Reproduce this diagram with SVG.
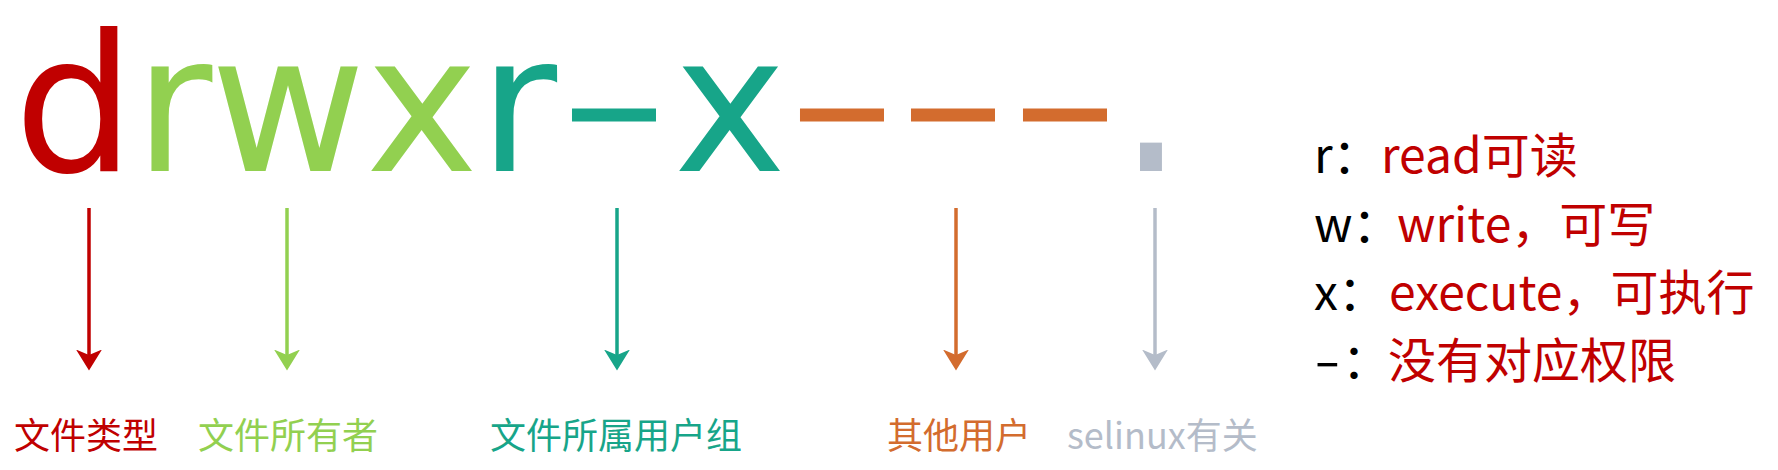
<svg xmlns="http://www.w3.org/2000/svg" width="1778" height="470" viewBox="0 0 1778 470">
<style>
.big{font-family:"DejaVu Sans",sans-serif;font-size:190px;text-anchor:middle}
.lbl{font-family:"Noto Sans CJK SC","Noto Sans",sans-serif;font-size:36px}
.leg{font-family:"Noto Sans CJK SC","Noto Sans",sans-serif;font-size:48px}
.k{fill:#000000}
.red{fill:#C00000}
.grn{fill:#92D050}
.teal{fill:#17A589}
.org{fill:#D36C2E}
.gry{fill:#B4BCC9}
.ln{stroke-width:3.5;fill:none}
</style>
<defs>
<marker id="mRed" markerUnits="userSpaceOnUse" viewBox="0 0 21 26" refX="5.5" refY="13" markerWidth="21" markerHeight="26" orient="auto"><path d="M0,0 L21,13 L0,26 L5.5,13 Z" fill="#C00000"/></marker>
<marker id="mGrn" markerUnits="userSpaceOnUse" viewBox="0 0 21 26" refX="5.5" refY="13" markerWidth="21" markerHeight="26" orient="auto"><path d="M0,0 L21,13 L0,26 L5.5,13 Z" fill="#92D050"/></marker>
<marker id="mTeal" markerUnits="userSpaceOnUse" viewBox="0 0 21 26" refX="5.5" refY="13" markerWidth="21" markerHeight="26" orient="auto"><path d="M0,0 L21,13 L0,26 L5.5,13 Z" fill="#17A589"/></marker>
<marker id="mOrg" markerUnits="userSpaceOnUse" viewBox="0 0 21 26" refX="5.5" refY="13" markerWidth="21" markerHeight="26" orient="auto"><path d="M0,0 L21,13 L0,26 L5.5,13 Z" fill="#D36C2E"/></marker>
<marker id="mGry" markerUnits="userSpaceOnUse" viewBox="0 0 21 26" refX="5.5" refY="13" markerWidth="21" markerHeight="26" orient="auto"><path d="M0,0 L21,13 L0,26 L5.5,13 Z" fill="#B4BCC9"/></marker>
</defs>
<rect x="0" y="0" width="1778" height="470" fill="#FFFFFF"/>

<g id="permission-string">
<text class="big red" x="74.4" y="171">d</text>
<text class="big grn" x="173.4" y="171">r</text>
<text class="big grn" x="288" y="171">w</text>
<text class="big grn" x="422" y="171">x</text>
<text class="big teal" x="518" y="171">r</text>
<text class="big teal" transform="translate(614,115) scale(1.68,0.85)" x="0" y="52">-</text>
<text class="big teal" x="730" y="171">x</text>
<text class="big org" transform="translate(842,115) scale(1.68,0.85)" x="0" y="52">-</text>
<text class="big org" transform="translate(953,115) scale(1.68,0.85)" x="0" y="52">-</text>
<text class="big org" transform="translate(1065,115) scale(1.68,0.85)" x="0" y="52">-</text>
<text class="big gry" transform="translate(1151,171) scale(1.12,1.2)" x="0" y="0">.</text>
</g>

<g id="connectors">
<line class="ln" x1="89" y1="208" x2="89" y2="355" stroke="#C00000" marker-end="url(#mRed)"/>
<line class="ln" x1="287" y1="208" x2="287" y2="355" stroke="#92D050" marker-end="url(#mGrn)"/>
<line class="ln" x1="617" y1="208" x2="617" y2="355" stroke="#17A589" marker-end="url(#mTeal)"/>
<line class="ln" x1="956" y1="208" x2="956" y2="355" stroke="#D36C2E" marker-end="url(#mOrg)"/>
<line class="ln" x1="1155" y1="208" x2="1155" y2="355" stroke="#B4BCC9" marker-end="url(#mGry)"/>
</g>

<g id="label-file-type"><text class="lbl red" x="14" y="449">文件类型</text></g>
<g id="label-owner"><text class="lbl grn" x="198" y="449">文件所有者</text></g>
<g id="label-group"><text class="lbl teal" x="490" y="449">文件所属用户组</text></g>
<g id="label-others"><text class="lbl org" x="887" y="449">其他用户</text></g>
<g id="label-selinux"><text class="lbl gry" x="1067" y="449">selinux有关</text></g>

<g id="legend">
<text class="leg" y="173"><tspan class="k" x="1314">r：</tspan><tspan class="red" x="1381">read可读</tspan></text>
<text class="leg" y="242"><tspan class="k" x="1314">w：</tspan><tspan class="red" x="1397">write，可写</tspan></text>
<text class="leg" y="310"><tspan class="k" x="1314">x：</tspan><tspan class="red" x="1389">execute，可执行</tspan></text>
<text class="leg k" transform="translate(1314,378) scale(1.6,1)" x="0" y="0">-</text>
<text class="leg" y="378"><tspan class="k" x="1342">：</tspan><tspan class="red" x="1388">没有对应权限</tspan></text>
</g>
</svg>
